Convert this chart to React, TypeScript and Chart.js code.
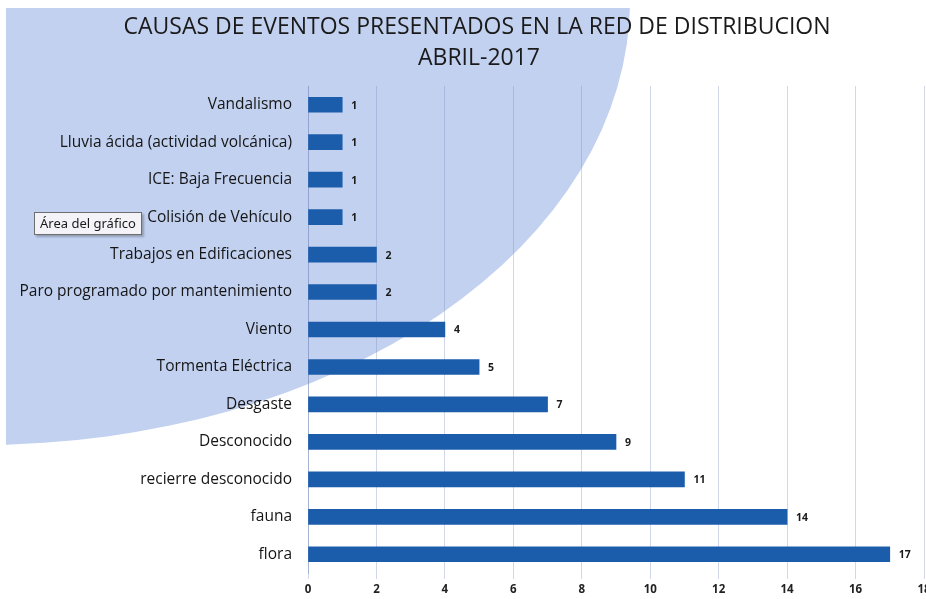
import React, { useEffect, useRef } from "react";
import { Chart, registerables } from "chart.js";

Chart.register(...registerables);

const titleLines = ["CAUSAS DE EVENTOS PRESENTADOS EN LA RED DE DISTRIBUCION", "ABRIL-2017"];

const categories = [
  "Vandalismo",
  "Lluvia ácida (actividad volcánica)",
  "ICE: Baja Frecuencia",
  "Colisión de Vehículo",
  "Trabajos en Edificaciones",
  "Paro programado por mantenimiento",
  "Viento",
  "Tormenta Eléctrica",
  "Desgaste",
  "Desconocido",
  "recierre desconocido",
  "fauna",
  "flora",
];

const values = [1, 1, 1, 1, 2, 2, 4, 5, 7, 9, 11, 14, 17];

const xMin = 0;
const xMax = 18;
const xStep = 2;

const tooltipText = "Área del gráfico";

const backgroundPlugin = {
  id: "photoBackground",
  beforeDraw(chart: any) {
    const ctx = chart.ctx;
    ctx.save();
    ctx.fillStyle = "#ffffff";
    ctx.fillRect(0, 0, chart.width, chart.height);
    ctx.beginPath();
    ctx.rect(6, 8, chart.width, chart.height);
    ctx.clip();
    ctx.fillStyle = "#c2d1f0";
    ctx.beginPath();
    ctx.ellipse(-20, 0, 650, 445, 0, 0, Math.PI * 2);
    ctx.fill();
    ctx.restore();
  },
};

const titlePlugin = {
  id: "twoLineTitle",
  afterDraw(chart: any) {
    const ctx = chart.ctx;
    ctx.save();
    ctx.fillStyle = "#1a1a1a";
    ctx.font = "23px 'Open Sans', sans-serif";
    ctx.textAlign = "center";
    ctx.textBaseline = "middle";
    ctx.fillText(titleLines[0], 477, 27);
    ctx.fillText(titleLines[1], 479, 58);
    ctx.restore();
  },
};

const valueLabelPlugin = {
  id: "valueLabels",
  afterDatasetsDraw(chart: any) {
    const ctx = chart.ctx;
    const meta = chart.getDatasetMeta(0);
    ctx.save();
    ctx.fillStyle = "#1a1a1a";
    ctx.font = "bold 10.5px 'Open Sans', sans-serif";
    ctx.textAlign = "left";
    ctx.textBaseline = "middle";
    meta.data.forEach((bar: any, i: number) => {
      ctx.fillText(String(values[i]), bar.x + 9, bar.y + 1);
    });
    ctx.restore();
  },
};

export default function App() {
  const canvasRef = useRef<HTMLCanvasElement | null>(null);

  useEffect(() => {
    if (!canvasRef.current) return;
    const chart = new Chart(canvasRef.current, {
      type: "bar",
      data: {
        labels: categories,
        datasets: [
          {
            data: values,
            backgroundColor: "#1c5dab",
            borderWidth: 0,
            barThickness: 15,
          },
        ],
      },
      options: {
        indexAxis: "y",
        animation: false,
        responsive: false,
        maintainAspectRatio: false,
        layout: { padding: { left: 8, right: 36, top: 86, bottom: 0 } },
        plugins: {
          legend: { display: false },
          tooltip: { enabled: false },
          title: { display: false },
        },
        scales: {
          x: {
            min: xMin,
            max: xMax,
            ticks: {
              stepSize: xStep,
              color: "#222222",
              font: { family: "'Open Sans', sans-serif", size: 11.5, weight: "bold" },
              padding: 4,
            },
            grid: {
              color: "rgba(120,140,185,0.35)",
              tickLength: 6,
            },
            border: { display: false },
            afterFit(scale: any) {
              scale.height = 26;
            },
          },
          y: {
            ticks: {
              color: "#151515",
              font: { family: "'Open Sans', sans-serif", size: 15.5 },
              padding: 8,
            },
            grid: { display: false },
            border: { display: true, color: "rgba(120,140,185,0.45)" },
            afterFit(scale: any) {
              scale.width = 300;
            },
          },
        },
      },
      plugins: [backgroundPlugin, valueLabelPlugin, titlePlugin],
    });
    return () => chart.destroy();
  }, []);

  return (
    <div
      style={{
        position: "fixed",
        left: 0,
        top: 0,
        width: 926,
        height: 599,
        overflow: "hidden",
        background: "#ffffff",
      }}
    >
      <canvas ref={canvasRef} width={960} height={599} style={{ display: "block" }} />
      <div
        style={{
          position: "absolute",
          left: 34,
          top: 212,
          padding: "2px 5px",
          background: "#f3f3f8",
          border: "1px solid #6e6e6e",
          boxShadow: "2px 2px 2px rgba(0,0,0,0.25)",
          fontFamily: "'Noto Sans', sans-serif",
          fontSize: 13,
          color: "#1a1a1a",
          lineHeight: "17px",
          whiteSpace: "nowrap",
        }}
      >
        {tooltipText}
      </div>
    </div>
  );
}
